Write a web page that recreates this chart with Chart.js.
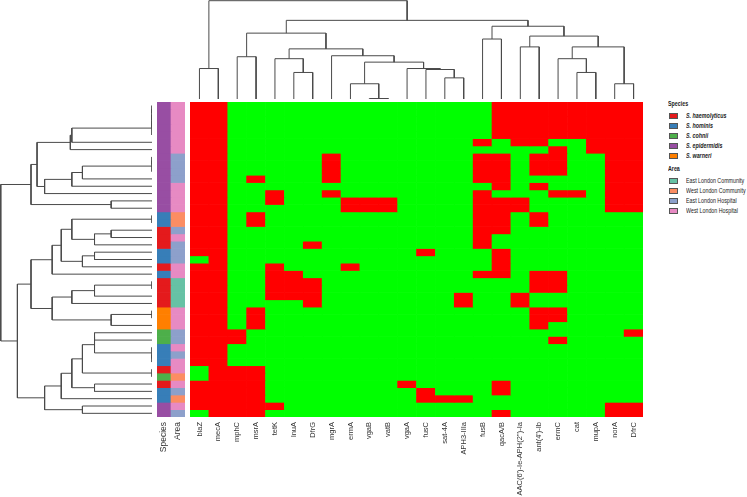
<!DOCTYPE html>
<html>
<head>
<meta charset="utf-8">
<script src="https://cdn.jsdelivr.net/npm/chart.js@4.4.0/dist/chart.umd.min.js"></script>
<style>
  body { margin: 0; background: #fff; width: 747px; height: 497px; position: relative; overflow: hidden;
         font-family: "Liberation Sans", Arial, sans-serif; }
  canvas { position: absolute; }
  #legend { position: absolute; left: 0; top: 0; font-size: 7px; color: #222; }
  #legend div { position: absolute; white-space: nowrap; line-height: 8px; }
  #legend .txt { transform: scaleX(0.76); transform-origin: left center; }
  #legend .ttl { font-weight: bold; }
  #legend .sp { font-style: italic; font-weight: bold; }
  #legend .sw { width: 9px; height: 6px; box-sizing: border-box; border: 0.6px solid #555; }
</style>
</head>
<body>
<canvas id="rowTree" width="152" height="315" style="left:0;top:102px"></canvas>
<canvas id="colTree" width="453" height="99" style="left:190px;top:0"></canvas>
<canvas id="annot" width="28" height="395" style="left:157px;top:102px"></canvas>
<canvas id="heat" width="453" height="395" style="left:190px;top:102px"></canvas>
<div id="legend"></div>
<script>
const genes = ["blaZ", "mecA", "mphC", "msrA", "tetK", "lnuA", "DfrG", "mgrA", "ermA", "vgaB", "vatB", "vgaA",
  "fusC", "sat-4A", "APH3-IIIa", "fusB", "qacA/B", "AAC(6')-Ie-APH(2'')-Ia", "ant(4')-Ib", "ermC", "cat", "mupA", "norA", "DfrC"];

// one string per isolate (top to bottom), one character per gene: 1 = present (red)
const presence = [
  "110000000000000011111111",
  "110000000000000011111111",
  "110000000000000011111111",
  "110000000000000011111111",
  "110000000000000011111111",
  "110000000000000101100111",
  "110000000000000000010111",
  "110000010000000110110011",
  "110000010000000110110011",
  "110000010000000110110011",
  "110100010000000110000011",
  "110000000000000010100011",
  "110010010000000100011011",
  "110010001110000111000011",
  "110000001110000111000011",
  "110100000000000110100000",
  "110100000000000110100000",
  "110000000000000110000000",
  "110000000000000100000000",
  "110000100000000100000000",
  "110000000000100010000000",
  "010000000000000010000000",
  "110010001000000010000000",
  "110011000000000110110000",
  "110011100000000000110000",
  "110011100000000000110000",
  "110011100000001001000000",
  "110000100000001001000000",
  "110100000000000000110000",
  "110100000000000000110000",
  "110100000000000000100000",
  "111000000000000000000001",
  "111000000000000000010000",
  "110000000000000000000000",
  "110000000000000000000000",
  "110000000000000000000000",
  "011100000000000000000000",
  "011100000000000000000000",
  "111100000001000010000000",
  "111100000000100010000000",
  "111100000000111000000000",
  "111110000000000000000011",
  "011100000000000010000011"
];

const speciesNames = ["S. haemolyticus", "S. hominis", "S. cohnii", "S. epidermidis", "S. warneri"];
const speciesColors = ["#E41A1C", "#377EB8", "#4DAF4A", "#984EA3", "#FF7F00"];
const areaNames = ["East London Community", "West London Community", "East London Hospital", "West London Hospital"];
const areaColors = ["#66C2A5", "#FC8D62", "#8DA0CB", "#E78AC3"];

const rowSpecies = [3,3,3,3,3,3,3,3,3,3,3,3,3,3,3, 1,1, 0,0,0, 1,1, 0, 1, 0,0,0,0, 4,4,4, 2,2, 1,1,1, 0, 2, 0, 1,1, 3,3];
const rowArea = [3,3,3,3,3,3,3, 2,2,2,2, 3,3,3,3, 1,1, 2, 3, 2,2,2, 3,3, 0,0,0,0, 3,3,3, 2,2, 3, 2, 3,3, 1, 3, 2, 1, 3, 2];

// dendrogram merges: [first leaf, last leaf of left branch, last leaf, height]
const rowMerges = [
  [0,0,1,0], [0,1,2,0], [0,2,3,0], [0,3,4,0], [0,4,5,0.53], [0,5,6,0.54],
  [7,7,8,0], [7,8,9,0], [7,9,10,0.46], [7,10,11,0.53], [7,11,12,0.71],
  [0,6,12,0.76], [13,13,14,0.27], [0,12,14,0.80],
  [15,15,16,0], [17,17,18,0.27], [17,18,19,0.38], [15,16,19,0.53],
  [20,20,21,0.38], [20,21,22,0.46], [15,19,22,0.60], [15,22,23,0.66],
  [24,24,25,0], [24,25,26,0.38], [24,26,27,0.53], [28,28,29,0], [28,29,30,0.27], [24,27,30,0.66],
  [15,23,30,0.80],
  [31,31,32,0.38], [34,34,35,0], [33,33,35,0], [31,32,35,0.38], [36,36,37,0], [31,35,37,0.46],
  [38,38,39,0.38], [31,37,39,0.53], [31,39,40,0.60], [41,41,42,0.46], [31,40,42,0.71],
  [15,30,42,0.89],
  [0,14,42,1.00]
];
const colMerges = [
  [0,0,1,0.31],
  [2,2,3,0.43], [5,5,6,0.27], [4,4,6,0.41],
  [9,9,10,0.005], [8,8,10,0.155], [13,13,14,0.215], [12,12,14,0.30], [11,11,14,0.31],
  [8,10,14,0.375], [7,7,14,0.44], [4,6,14,0.51], [2,3,14,0.67],
  [15,15,16,0.61], [17,17,18,0.53], [20,20,21,0.27], [19,19,21,0.41], [22,22,23,0.155],
  [19,21,23,0.53], [17,18,23,0.64], [15,16,23,0.74],
  [2,14,23,0.80],
  [0,1,23,1.00]
];

function treeSegments(merges, n) {
  const lookup = {};
  merges.forEach(m => { lookup[m[0] + "-" + m[2]] = m; });
  const segs = [];
  function node(lo, hi) {
    if (lo === hi) return { pos: lo, h: 0 };
    const m = lookup[lo + "-" + hi];
    const a = node(lo, m[1]);
    const b = node(m[1] + 1, hi);
    segs.push([[a.pos, a.h], [a.pos, m[3]], [b.pos, m[3]], [b.pos, b.h]]);
    return { pos: (a.pos + b.pos) / 2, h: m[3] };
  }
  node(0, n - 1);
  return segs;
}

const lineColor = "#4a4a4a";
const baseOpts = {
  responsive: false,
  animation: false,
  events: [],
  layout: { padding: 0 },
  plugins: { legend: { display: false }, tooltip: { enabled: false } }
};

// row dendrogram (left)
new Chart(document.getElementById("rowTree"), {
  type: "scatter",
  data: {
    datasets: treeSegments(rowMerges, presence.length).map(s => ({
      data: s.map(p => ({ x: p[1], y: p[0] })),
      showLine: true, borderColor: lineColor, borderWidth: 1, pointRadius: 0, tension: 0, clip: false
    }))
  },
  options: Object.assign({}, baseOpts, {
    scales: {
      x: { type: "linear", display: false, reverse: true, min: 0, max: 1.005 },
      y: { type: "linear", display: false, reverse: true, min: -0.5, max: presence.length - 0.5 }
    }
  })
});

// column dendrogram (top)
new Chart(document.getElementById("colTree"), {
  type: "scatter",
  data: {
    datasets: treeSegments(colMerges, genes.length).map(s => ({
      data: s.map(p => ({ x: p[0], y: p[1] })),
      showLine: true, borderColor: lineColor, borderWidth: 1, pointRadius: 0, tension: 0, clip: false
    }))
  },
  options: Object.assign({}, baseOpts, {
    scales: {
      x: { type: "linear", display: false, min: -0.5, max: genes.length - 0.5 },
      y: { type: "linear", display: false, min: 0, max: 1.007 }
    }
  })
});

function fixAxis(scale) {
  scale.height = 80;
  scale.paddingLeft = 0;
  scale.paddingRight = 0;
}

// Species / Area annotation columns
new Chart(document.getElementById("annot"), {
  type: "bar",
  data: {
    labels: ["Species", "Area"],
    datasets: presence.map((row, r) => ({
      data: [1, 1],
      backgroundColor: [speciesColors[rowSpecies[r]], areaColors[rowArea[r]]],
      borderWidth: 0, categoryPercentage: 1, barPercentage: 1
    }))
  },
  options: Object.assign({}, baseOpts, {
    scales: {
      x: {
        stacked: true, grid: { display: false, drawTicks: false }, border: { display: false },
        ticks: { minRotation: 90, maxRotation: 90, autoSkip: false, padding: 5, color: "#333",
                 font: { size: 8.5, family: "Liberation Sans" } },
        afterFit: fixAxis
      },
      y: { stacked: true, display: false, min: 0, max: presence.length, reverse: true }
    }
  })
});

// heatmap
new Chart(document.getElementById("heat"), {
  type: "bar",
  data: {
    labels: genes,
    datasets: presence.map((row, r) => ({
      label: "isolate " + (r + 1),
      data: genes.map(() => 1),
      backgroundColor: row.split("").map(v => v === "1" ? "#FF0000" : "#00FF00"),
      borderWidth: 0, categoryPercentage: 1, barPercentage: 1
    }))
  },
  options: Object.assign({}, baseOpts, {
    scales: {
      x: {
        stacked: true, grid: { display: false, drawTicks: false }, border: { display: false },
        ticks: { minRotation: 90, maxRotation: 90, autoSkip: false, padding: 5, color: "#333",
                 font: { size: 7.5, family: "Liberation Sans" } },
        afterFit: fixAxis
      },
      y: { stacked: true, display: false, min: 0, max: presence.length, reverse: true }
    }
  })
});

// legend
const legend = document.getElementById("legend");
function addLine(y, text, cls, color) {
  const t = document.createElement("div");
  t.className = "txt " + cls;
  t.textContent = text;
  t.style.top = (y - 4) + "px";
  t.style.left = color ? "686px" : "668px";
  legend.appendChild(t);
  if (color) {
    const s = document.createElement("div");
    s.className = "sw";
    s.style.background = color;
    s.style.left = "669px";
    s.style.top = (y - 3) + "px";
    legend.appendChild(s);
  }
}
addLine(104, "Species", "ttl");
speciesNames.forEach((n, i) => addLine(116 + 10 * i, n, "sp", speciesColors[i]));
addLine(169, "Area", "ttl");
areaNames.forEach((n, i) => addLine(181 + 10 * i, n, "", areaColors[i]));
</script>
</body>
</html>
